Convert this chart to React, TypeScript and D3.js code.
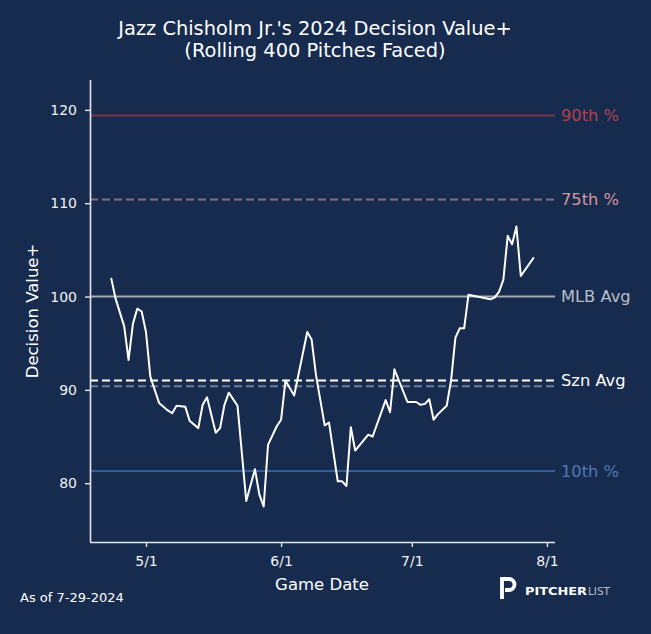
import React, { useEffect, useRef } from "react";
import * as d3 from "d3";

// rolling Decision Value+
const gameDates = [
  "2024-04-23", "2024-04-24", "2024-04-26", "2024-04-27", "2024-04-28", "2024-04-29", "2024-04-30",
  "2024-05-01", "2024-05-02", "2024-05-03", "2024-05-04", "2024-05-05", "2024-05-06", "2024-05-07",
  "2024-05-08", "2024-05-10", "2024-05-11", "2024-05-13", "2024-05-14", "2024-05-15", "2024-05-17",
  "2024-05-18", "2024-05-19", "2024-05-20", "2024-05-22", "2024-05-24", "2024-05-26", "2024-05-27",
  "2024-05-28", "2024-05-29", "2024-05-31", "2024-06-01", "2024-06-02", "2024-06-04", "2024-06-07",
  "2024-06-08", "2024-06-09", "2024-06-11", "2024-06-12", "2024-06-14", "2024-06-15", "2024-06-16",
  "2024-06-17", "2024-06-18", "2024-06-21", "2024-06-22", "2024-06-25", "2024-06-26", "2024-06-27",
  "2024-06-30", "2024-07-02", "2024-07-03", "2024-07-04", "2024-07-05", "2024-07-06", "2024-07-07",
  "2024-07-09", "2024-07-10", "2024-07-11", "2024-07-12", "2024-07-13", "2024-07-14", "2024-07-19",
  "2024-07-20", "2024-07-21", "2024-07-22", "2024-07-23", "2024-07-24", "2024-07-25", "2024-07-26",
  "2024-07-29",
];
const dvValues = [
  102.0, 99.8, 96.8, 93.2, 97.1, 98.7, 98.4,
  96.2, 91.4, 90.0, 88.6, 88.2, 87.8, 87.5,
  88.3, 88.2, 86.7, 85.9, 88.4, 89.2, 85.4,
  85.9, 88.4, 89.7, 88.3, 78.1, 81.5, 78.8,
  77.5, 84.1, 86.1, 86.8, 91.0, 89.4, 96.2,
  95.4, 91.6, 86.2, 86.5, 80.2, 80.2, 79.7,
  86.0, 83.5, 85.2, 85.0, 88.9, 87.6, 92.2,
  88.7, 88.7, 88.4, 88.5, 89.0, 86.8, 87.4,
  88.3, 91.0, 95.6, 96.6, 96.6, 100.2, 99.7,
  99.9, 100.5, 101.8, 106.5, 105.6, 107.5, 102.2,
  104.2,
];

const refValues = [119.4, 110.4, 100, 91.0, 90.4, 81.3];
const refLabels = ["90th %", "75th %", "MLB Avg", "Szn Avg", "", "10th %"];

const yTicks = [80, 90, 100, 110, 120];
const xTickDates = ["2024-05-01", "2024-06-01", "2024-07-01", "2024-08-01"];
const xTickLabels = ["5/1", "6/1", "7/1", "8/1"];

const BG = "#172b4f";
const refStyles = [
  { line: "#7f3443", text: "#b3424d", dash: null },
  { line: "#8a6d7c", text: "#d8969b", dash: "8,4" },
  { line: "#a7abb5", text: "#b9bdc5", dash: null },
  { line: "#ffffff", text: "#ffffff", dash: "8,4" },
  { line: "#6a7e9e", text: "#6a7e9e", dash: "8,4" },
  { line: "#2f5e9e", text: "#4f78b3", dash: null },
];

const App = () => {
  const svgRef = useRef(null);
  const width = 651;
  const height = 634;
  const margin = { top: 80, right: 96, bottom: 92, left: 90 };

  useEffect(() => {
    document.body.style.margin = "0";
    document.body.style.background = BG;
    const svg = d3.select(svgRef.current);
    svg.selectAll("*").remove();

    const parse = d3.timeParse("%Y-%m-%d");
    const data = gameDates.map((d, i) => ({ date: parse(d), value: dvValues[i] }));

    const x0 = data[0].date.getTime();
    const x1 = data[data.length - 1].date.getTime();
    const pad = (x1 - x0) * 0.05;
    const x = d3
      .scaleTime()
      .domain([new Date(x0 - pad), new Date(x1 + pad)])
      .range([margin.left, width - margin.right]);

    const y = d3
      .scaleLinear()
      .domain([73.7, 123.2])
      .range([height - margin.bottom, margin.top]);

    svg.append("rect").attr("width", width).attr("height", height).attr("fill", BG);

    // title
    const title = svg
      .append("text")
      .attr("x", 315)
      .attr("text-anchor", "middle")
      .attr("fill", "#ffffff")
      .style("font-family", "DejaVu Sans")
      .style("font-size", "19.4px");
    title.append("tspan").attr("x", 315).attr("y", 35).text("Jazz Chisholm Jr.'s 2024 Decision Value+");
    title.append("tspan").attr("x", 315).attr("y", 57).text("(Rolling 400 Pitches Faced)");

    // reference lines
    refValues.forEach((v, i) => {
      const s = refStyles[i];
      const ln = svg
        .append("line")
        .attr("x1", margin.left)
        .attr("x2", width - margin.right)
        .attr("y1", y(v))
        .attr("y2", y(v))
        .attr("stroke", s.line)
        .attr("stroke-width", 2);
      if (s.dash) ln.attr("stroke-dasharray", s.dash);
      if (refLabels[i]) {
        svg
          .append("text")
          .attr("x", width - margin.right + 6)
          .attr("y", y(v) + 5.5)
          .attr("fill", s.text)
          .style("font-family", "DejaVu Sans")
          .style("font-size", "16.3px")
          .text(refLabels[i]);
      }
    });

    // main line
    const line = d3
      .line<any>()
      .x((d) => x(d.date))
      .y((d) => y(d.value));
    svg
      .append("path")
      .datum(data)
      .attr("d", line)
      .attr("fill", "none")
      .attr("stroke", "#ffffff")
      .attr("stroke-width", 2)
      .attr("stroke-linejoin", "round");

    // axes
    const axisColor = "#e6e6e6";
    const gx = svg
      .append("g")
      .attr("transform", `translate(0,${height - margin.bottom})`)
      .call(
        d3
          .axisBottom(x)
          .tickValues(xTickDates.map((d) => parse(d)))
          .tickFormat((d, i) => xTickLabels[i])
          .tickSize(5)
          .tickPadding(9)
      );
    const gy = svg
      .append("g")
      .attr("transform", `translate(${margin.left},0)`)
      .call(d3.axisLeft(y).tickValues(yTicks).tickSize(5).tickPadding(8));

    [gx, gy].forEach((g) => {
      g.select(".domain").attr("stroke", axisColor).attr("stroke-width", 1.6);
      g.selectAll(".tick line").attr("stroke", axisColor).attr("stroke-width", 1.4);
      g.selectAll(".tick text")
        .attr("fill", "#f2f2f2")
        .style("font-family", "DejaVu Sans")
        .style("font-size", "14px");
    });
    gx.select(".domain").attr("d", `M${margin.left},0.5H${width - margin.right}`);
    gy.select(".domain").attr("d", `M0.5,${height - margin.bottom}V${margin.top}`);

    // axis labels
    svg
      .append("text")
      .attr("x", 322)
      .attr("y", 590)
      .attr("text-anchor", "middle")
      .attr("fill", "#ffffff")
      .style("font-family", "DejaVu Sans")
      .style("font-size", "16.5px")
      .text("Game Date");
    svg
      .append("text")
      .attr("transform", `translate(38,${(margin.top + height - margin.bottom) / 2}) rotate(-90)`)
      .attr("text-anchor", "middle")
      .attr("fill", "#ffffff")
      .style("font-family", "DejaVu Sans")
      .style("font-size", "16.5px")
      .text("Decision Value+");

    // footer
    svg
      .append("text")
      .attr("x", 20)
      .attr("y", 602)
      .attr("fill", "#ffffff")
      .style("font-family", "DejaVu Sans")
      .style("font-size", "13px")
      .text("As of 7-29-2024");

    // logo
    const logo = svg.append("g");
    logo
      .append("path")
      .attr("d", "M502,599 V579 H509 A5.5,5.5 0 0 1 509,590 H505")
      .attr("fill", "none")
      .attr("stroke", "#ffffff")
      .attr("stroke-width", 3.8);
    logo
      .append("text")
      .attr("x", 525)
      .attr("y", 595)
      .attr("fill", "#ffffff")
      .attr("textLength", 62)
      .attr("lengthAdjust", "spacingAndGlyphs")
      .style("font-family", "DejaVu Sans")
      .style("font-weight", "bold")
      .style("font-size", "11px")
      .text("PITCHER");
    logo
      .append("text")
      .attr("x", 588)
      .attr("y", 595)
      .attr("fill", "#b8bfcc")
      .attr("textLength", 22)
      .attr("lengthAdjust", "spacingAndGlyphs")
      .style("font-family", "DejaVu Sans")
      .style("font-size", "11px")
      .text("LIST");
  }, []);

  return <svg ref={svgRef} width={width} height={height} style={{ display: "block" }} />;
};

export default App;
